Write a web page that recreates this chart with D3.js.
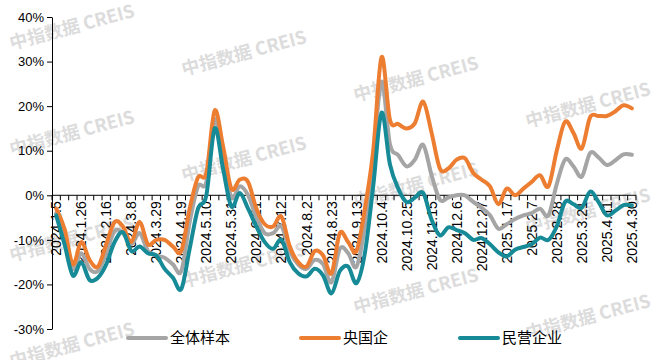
<!DOCTYPE html>
<html>
<head>
<meta charset="utf-8">
<script src="https://cdn.jsdelivr.net/npm/d3@7"></script>
<style>
    body { margin: 0; background: #fff; }
    text { font-family: "Liberation Sans", Arial, "Noto Sans CJK SC", sans-serif; }
    .legend-label { font-family: "Noto Sans CJK SC", sans-serif; }
    .wm { font-family: "Noto Sans CJK SC", sans-serif; font-weight: bold; }
</style>
</head>
<body>
<script>

// weekly dates (x categories)
var dates = ["2024.1.5","2024.1.12","2024.1.19","2024.1.26","2024.2.2","2024.2.9","2024.2.16","2024.2.23",
    "2024.3.1","2024.3.8","2024.3.15","2024.3.22","2024.3.29","2024.4.5","2024.4.12","2024.4.19","2024.4.26",
    "2024.5.3","2024.5.10","2024.5.17","2024.5.24","2024.5.31","2024.6.7","2024.6.14","2024.6.21","2024.6.28",
    "2024.7.5","2024.7.12","2024.7.19","2024.7.26","2024.8.2","2024.8.9","2024.8.16","2024.8.23","2024.8.30",
    "2024.9.6","2024.9.13","2024.9.20","2024.9.27","2024.10.4","2024.10.11","2024.10.18","2024.10.25",
    "2024.11.1","2024.11.8","2024.11.15","2024.11.22","2024.11.29","2024.12.6","2024.12.13","2024.12.20",
    "2024.12.27","2025.1.3","2025.1.10","2025.1.17","2025.1.24","2025.1.31","2025.2.7","2025.2.14","2025.2.21",
    "2025.2.28","2025.3.7","2025.3.14","2025.3.21","2025.3.28","2025.4.4","2025.4.11","2025.4.18","2025.4.25",
    "2025.4.30"];

// 全体样本
var allSample = [-4, -9, -16.5, -13, -16.5, -17, -13, -8, -8.5, -11, -8.5, -12.5, -13.5, -14, -15.5, -17,
    -6, 2, 3, 17, 8.5, -0.5, 2, 0, -5, -8.5, -8.5, -7, -12.5, -15.5, -16.5, -14.5, -15.5, -19.5, -12, -13,
    -16, -7, 8, 25.5, 11.5, 9, 6.5, 8, 11.3, 4.5, -1, -0.5, 0, 0, -1.5, -2.8, -4.5, -7.5, -6.5, -5.3, -4.5,
    -4, -3, -4.5, 2.5, 8, 6.5, 4.2, 9.5, 8.5, 6.8, 7.8, 9.2, 9.1];

// 央国企
var stateOwned = [-3, -7.5, -15.5, -10.5, -14.5, -16, -11, -6, -7, -10.5, -6, -11, -10, -10, -11.5, -12.5,
    -3, 4, 5, 19, 11, 1.5, 3.5, 3, -3, -6.5, -7, -4.8, -11.5, -15, -16, -12.5, -13.5, -17.5, -8.5, -10.5,
    -12.5, -3, 10, 31, 17, 16, 15, 16.2, 21, 14, 6, 6, 8, 8.3, 5, 3.5, 2, -2, 1.5, 0, 1.5,
    3, 4.5, 2, 10, 16.5, 14, 10.5, 17.5, 17.8, 17.8, 18.8, 20.2, 19.5];

// 民营企业
var privateCo = [-4.5, -11, -18, -15, -19, -18.5, -15.5, -10.5, -8.3, -12.5, -11.5, -13, -13.5, -16.5, -18.5, -21,
    -12, -3, 0, 15, 6, -2.5, 0.5, -3, -7, -10.5, -12, -10, -15, -17.5, -18.2, -16.5, -18, -22, -17, -16,
    -19.7, -13, 2, 18.5, 7, 1.5, -1.5, -0.5, 0.5, -5.5, -9, -7.2, -7.8, -8.5, -10, -9.6, -11, -12.8, -13.7,
    -12.2, -11.6, -11, -9.5, -10, -7, -1.5, -2, -2.8, 0.8, -1.5, -4.5, -3.5, -2.2, -2.3];

var yTicks = [-30, -20, -10, 0, 10, 20, 30, 40];
var seriesNames = ["全体样本", "央国企", "民营企业"];
var seriesColors = ["#a5a5a5", "#ed7d31", "#168b97"];

var w = 656, h = 360;

var svg = d3.select("body").append("svg")
    .attr("width", w)
    .attr("height", h);

svg.append("rect").attr("width", w).attr("height", h).attr("fill", "#fff");

// watermark tiles (only the ones that land on the canvas)
var wm = svg.append("g");
for (var col = 0; col < 4; col++) {
    for (var row = -1; row < 4; row++) {
        var wx = 72 + 172 * col;
        var wy = 27 + 26 * col + 106 * row;
        if (wy < 5 || wy > 345) continue;
        wm.append("text")
            .attr("class", "wm")
            .attr("transform", "translate(" + wx + "," + wy + ") rotate(-15)")
            .attr("text-anchor", "middle")
            .attr("dy", "0.35em")
            .attr("font-size", 18)
            .attr("fill", "#dcdcdc")
            .text("中指数据 CREIS");
    }
}

var x = d3.scaleBand().domain(dates).range([52, 636]);
var y = d3.scaleLinear().domain([-30, 40]).range([329, 17]);

function xMid(d, i) { return x(dates[i]) + x.bandwidth() / 2; }

// y axis
var yAxis = svg.append("g")
    .attr("transform", "translate(52,0)")
    .call(d3.axisLeft(y).tickValues(yTicks).tickSize(5).tickSizeOuter(0)
        .tickFormat(function(d) { return d + "%"; }));
yAxis.selectAll("text").attr("font-size", 13).attr("fill", "#000").attr("x", -8);
yAxis.selectAll("line, path").attr("stroke", "#000");

// x axis along zero line
var x0 = y(0);
svg.append("line")
    .attr("x1", x.range()[0]).attr("x2", x.range()[1])
    .attr("y1", x0).attr("y2", x0)
    .attr("stroke", "#000");

svg.append("g").selectAll("line")
    .data(d3.range(dates.length + 1))
    .enter()
    .append("line")
    .attr("x1", function(d) { return x.range()[0] + d * x.step(); })
    .attr("x2", function(d) { return x.range()[0] + d * x.step(); })
    .attr("y1", x0).attr("y2", x0 + 5)
    .attr("stroke", "#000");

svg.append("g").selectAll("text")
    .data(dates.filter(function(d, i) { return i % 3 === 0; }))
    .enter()
    .append("text")
    .attr("transform", function(d) {
        return "translate(" + (x(d) + x.bandwidth() / 2) + "," + (x0 + 6) + ") rotate(-90)";
    })
    .attr("text-anchor", "end")
    .attr("dy", "0.36em")
    .attr("font-size", 14)
    .attr("fill", "#000")
    .text(function(d) { return d; });

// lines
var line = d3.line()
    .x(xMid)
    .y(function(d) { return y(d); })
    .curve(d3.curveCatmullRom.alpha(0));

var allSeries = [allSample, stateOwned, privateCo];

svg.append("g").selectAll("path")
    .data(allSeries)
    .enter()
    .append("path")
    .attr("d", line)
    .attr("fill", "none")
    .attr("stroke", function(d, i) { return seriesColors[i]; })
    .attr("stroke-width", 4)
    .attr("stroke-linejoin", "round")
    .attr("stroke-linecap", "round");

// legend
var legendX = [128, 301, 460];
var legend = svg.append("g").selectAll("g")
    .data(seriesNames)
    .enter()
    .append("g")
    .attr("transform", function(d, i) { return "translate(" + legendX[i] + ",338)"; });

legend.append("line")
    .attr("x1", 0).attr("x2", 38)
    .attr("stroke", function(d, i) { return seriesColors[i]; })
    .attr("stroke-width", 4)
    .attr("stroke-linecap", "round");

legend.append("text")
    .attr("class", "legend-label")
    .attr("x", 42)
    .attr("dy", "0.35em")
    .attr("font-size", 15)
    .attr("fill", "#000")
    .text(function(d) { return d; });

</script>
</body>
</html>
